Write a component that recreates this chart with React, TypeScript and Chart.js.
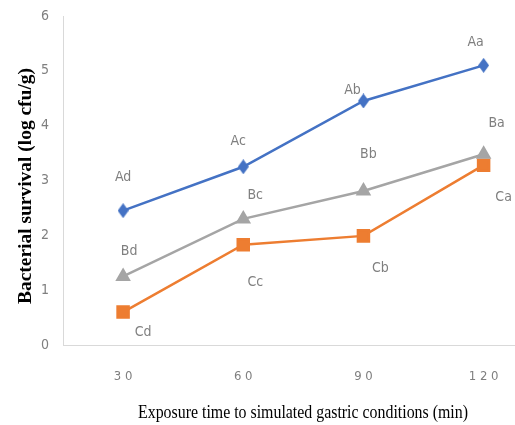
import React, { useEffect, useRef } from "react";
import { Chart, registerables } from "chart.js";

Chart.register(...registerables);

const categories = ["3 0", "6 0", "9 0", "1 2 0"];
const seriesA = [2.45, 3.25, 4.45, 5.1];
const seriesB = [1.25, 2.3, 2.81, 3.48];
const seriesC = [0.6, 1.83, 1.99, 3.28];
const labelsA = ["Ad", "Ac", "Ab", "Aa"];
const labelsB = ["Bd", "Bc", "Bb", "Ba"];
const labelsC = ["Cd", "Cc", "Cb", "Ca"];
const yTicks = [0, 1, 2, 3, 4, 5, 6];
const xTitle = "Exposure time to simulated gastric conditions (min)";
const yTitle = "Bacterial survival (log cfu/g)";

const labelOffsets: number[][][] = [
  [[0, -33], [-5, -25], [-11, -11], [-8, -23]],
  [[6, -25], [12, -24], [5, -37], [13, -31]],
  [[20, 20], [12, 38], [17, 32], [20, 32]],
];

function diamondCanvas(color: string) {
  const c = document.createElement("canvas");
  const w = 11, h = 15;
  c.width = w;
  c.height = h;
  const ctx = c.getContext("2d")!;
  ctx.fillStyle = color;
  ctx.beginPath();
  ctx.moveTo(w / 2, 0);
  ctx.lineTo(w, h / 2);
  ctx.lineTo(w / 2, h);
  ctx.lineTo(0, h / 2);
  ctx.closePath();
  ctx.fill();
  return c;
}

const labelPlugin = {
  id: "pointLabels",
  afterDatasetsDraw(chart: any) {
    const ctx = chart.ctx;
    const sets = [labelsA, labelsB, labelsC];
    ctx.save();
    ctx.font = '14px "Liberation Sans Narrow", "DejaVu Sans Condensed", sans-serif';
    ctx.fillStyle = "#7f7f7f";
    ctx.textAlign = "center";
    ctx.textBaseline = "middle";
    sets.forEach((labels, di) => {
      const meta = chart.getDatasetMeta(di);
      meta.data.forEach((pt: any, i: number) => {
        const [dx, dy] = labelOffsets[di][i];
        ctx.fillText(labels[i], pt.x + dx, pt.y + dy);
      });
    });
    ctx.restore();
  },
};

// Axis titles, drawn with a horizontal squeeze like the reference figure
const titlePlugin = {
  id: "axisTitles",
  afterDraw(chart: any) {
    const ctx = chart.ctx;
    ctx.save();
    ctx.fillStyle = "#000";
    ctx.textAlign = "center";
    ctx.textBaseline = "alphabetic";
    ctx.font = '18px "Liberation Serif", "Times New Roman", serif';
    let w = ctx.measureText(xTitle).width;
    let sx = 330 / w;
    ctx.save();
    ctx.translate(303, 418);
    ctx.scale(sx, 1);
    ctx.fillText(xTitle, 0, 0);
    ctx.restore();
    ctx.font = 'bold 19px "Liberation Serif", "Times New Roman", serif';
    w = ctx.measureText(yTitle).width;
    sx = 236 / w;
    ctx.save();
    ctx.translate(31, 186);
    ctx.rotate(-Math.PI / 2);
    ctx.scale(sx, 1);
    ctx.fillText(yTitle, 0, 0);
    ctx.restore();
    ctx.restore();
  },
};

export default function App() {
  const ref = useRef<HTMLCanvasElement>(null);
  useEffect(() => {
    document.body.style.margin = "0";
    const blue = "#4472C4";
    const gray = "#A5A5A5";
    const orange = "#ED7D31";
    const chart = new Chart(ref.current!, {
      type: "line",
      data: {
        labels: categories,
        datasets: [
          {
            data: seriesA,
            borderColor: blue,
            backgroundColor: blue,
            borderWidth: 2.5,
            pointStyle: diamondCanvas(blue) as any,
            pointRadius: 7,
          },
          {
            data: seriesB,
            borderColor: gray,
            backgroundColor: gray,
            borderWidth: 2.5,
            pointStyle: "triangle",
            pointRadius: 6.5,
          },
          {
            data: seriesC,
            borderColor: orange,
            backgroundColor: orange,
            borderWidth: 2.5,
            pointStyle: "rect",
            pointRadius: 7.8,
          },
        ],
      },
      options: {
        responsive: false,
        animation: false,
        layout: { padding: { top: 16, left: 0, right: 0, bottom: 0 } },
        plugins: {
          legend: { display: false },
          tooltip: { enabled: false },
        },
        scales: {
          x: {
            type: "category",
            offset: true,
            grid: { display: false, drawTicks: false },
            border: { display: true, color: "#d9d9d9", width: 1 },
            ticks: {
              color: "#7f7f7f",
              padding: 24,
              font: { family: '"Liberation Sans Narrow", "DejaVu Sans Condensed", sans-serif', size: 13 },
            },
            title: { display: false, text: xTitle },
            afterFit: (s: any) => {
              s.height = 80;
              s.paddingLeft = 0;
              s.paddingRight = 0;
            },
          },
          y: {
            min: 0,
            max: 6,
            afterBuildTicks: (s: any) => {
              s.ticks = yTicks.map((v) => ({ value: v }));
            },
            grid: { display: false, drawTicks: false },
            border: { display: true, color: "#d9d9d9", width: 1 },
            ticks: {
              color: "#7f7f7f",
              padding: 14,
              font: { family: '"Liberation Sans Narrow", "DejaVu Sans Condensed", sans-serif', size: 14 },
            },
            title: { display: false, text: yTitle },
            afterFit: (s: any) => {
              s.width = 63;
              s.paddingTop = 0;
              s.paddingBottom = 0;
            },
          },
        },
      },
      plugins: [labelPlugin, titlePlugin],
    });
    return () => chart.destroy();
  }, []);
  return (
    <div style={{ width: 515, height: 425, overflow: "hidden", background: "#fff" }}>
      <canvas ref={ref} width={554} height={425} style={{ display: "block" }} />
    </div>
  );
}
